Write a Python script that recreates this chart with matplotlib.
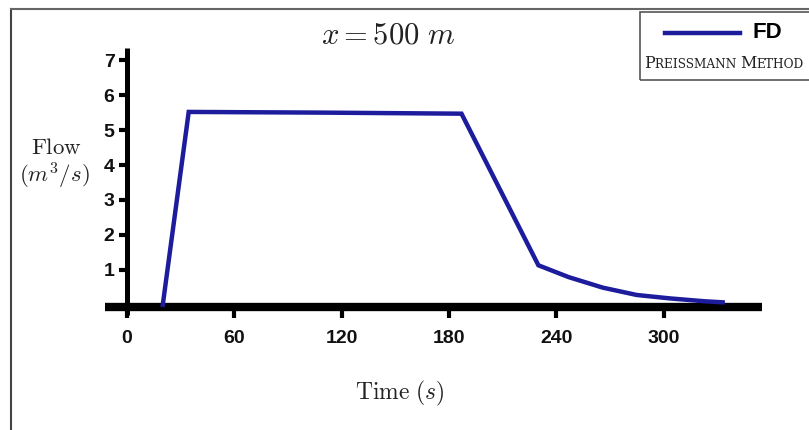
import matplotlib
matplotlib.use("Agg")
import matplotlib.pyplot as plt
from matplotlib.lines import Line2D
from matplotlib.patches import Rectangle
from matplotlib.offsetbox import TextArea, HPacker, VPacker, DrawingArea, AnchoredOffsetbox

plt.rcParams['mathtext.fontset'] = 'cm'

# data
time_s = [20, 34.5, 110, 187, 230, 247, 266, 285, 304, 323, 333]
flow = [0.0, 5.52, 5.50, 5.47, 1.13, 0.79, 0.49, 0.28, 0.18, 0.10, 0.07]
x_ticks = [0, 60, 120, 180, 240, 300]
y_ticks = [1, 2, 3, 4, 5, 6, 7]

LINE_COLOR = '#1c1c9c'
TICK_FONT = dict(family=['Liberation Sans', 'DejaVu Sans'], weight='bold', size=14)

fig = plt.figure(figsize=(8.09, 4.30), dpi=100)
ax = fig.add_axes([105 / 809, 1 - 317 / 430, 657 / 809, 269 / 430])
ax.set_xlim(-12.3, 355)
ax.set_ylim(-0.35, 7.35)

ax.plot(time_s, flow, color=LINE_COLOR, lw=3.2, solid_joinstyle='miter', zorder=3)

for s in ['top', 'right']:
    ax.spines[s].set_visible(False)
ax.spines['bottom'].set_position(('data', -0.05))
ax.spines['bottom'].set_linewidth(6)
ax.spines['bottom'].set_bounds(-12.3, 355)
ax.spines['bottom'].set_capstyle('butt')
ax.spines['left'].set_position(('data', 0))
ax.spines['left'].set_linewidth(3.6)
ax.spines['left'].set_bounds(-0.3, 7.35)
ax.spines['left'].set_capstyle('butt')

ax.set_xticks(x_ticks)
ax.set_yticks(y_ticks)
ax.tick_params(axis='x', direction='out', length=8, width=3, pad=9)
ax.tick_params(axis='y', direction='out', length=6, width=3, pad=3)
for lab in ax.get_xticklabels() + ax.get_yticklabels():
    lab.set_fontproperties(TICK_FONT)
    lab.set_color('#111111')
ax.patch.set_visible(False)

fig.text(388 / 809, 1 - 35 / 430, r'$x = 500\ m$', ha='center', va='center', fontsize=22, color='#222222')
fig.text(400 / 809, 1 - 393 / 430, r'$\mathrm{Time}\ (s)$', ha='center', va='center', fontsize=17, color='#222222')
fig.text(56 / 809, 1 - 147 / 430, r'$\mathrm{Flow}$', ha='center', va='center', fontsize=16.5, color='#222222')
fig.text(54 / 809, 1 - 176 / 430, r'$(m^3/s)$', ha='center', va='center', fontsize=16.5, color='#222222')

# outer frame
fig.add_artist(Line2D([11 / 809, 11 / 809], [0, 1 - 9 / 430], transform=fig.transFigure, color='#444444', lw=1.5))
fig.add_artist(Line2D([11 / 809, 1], [1 - 9 / 430, 1 - 9 / 430], transform=fig.transFigure, color='#666666', lw=1.5))

# legend box
fig.add_artist(Rectangle((640 / 809, 1 - 80 / 430), 180 / 809, 68 / 430, transform=fig.transFigure,
                         fill=False, edgecolor='#555555', lw=1.2))
da = DrawingArea(54, 8, 0, 0)
da.add_artist(Line2D([0, 54], [4, 4], color=LINE_COLOR, lw=3.2))
fd = TextArea('FD', textprops=dict(family=['Liberation Sans', 'DejaVu Sans'], weight='bold', size=16, color='black'))
row1 = HPacker(children=[da, fd], align='center', pad=0, sep=9)
sc_big = dict(family='DejaVu Serif', size=11.5, color='#222222')
sc_small = dict(family='DejaVu Serif', size=8.7, color='#222222')
row2 = HPacker(children=[TextArea('P', textprops=sc_big), TextArea('REISSMANN ', textprops=sc_small),
                         TextArea('M', textprops=sc_big), TextArea('ETHOD', textprops=sc_small)],
               align='baseline', pad=0, sep=0)
box = VPacker(children=[row1, row2], align='center', pad=0, sep=8)
anchored = AnchoredOffsetbox(loc='center', child=box, pad=0, borderpad=0, frameon=False,
                             bbox_to_anchor=(724 / 809, 1 - 47 / 430), bbox_transform=fig.transFigure)
fig.add_artist(anchored)

fig.savefig('out.png', dpi=100)
